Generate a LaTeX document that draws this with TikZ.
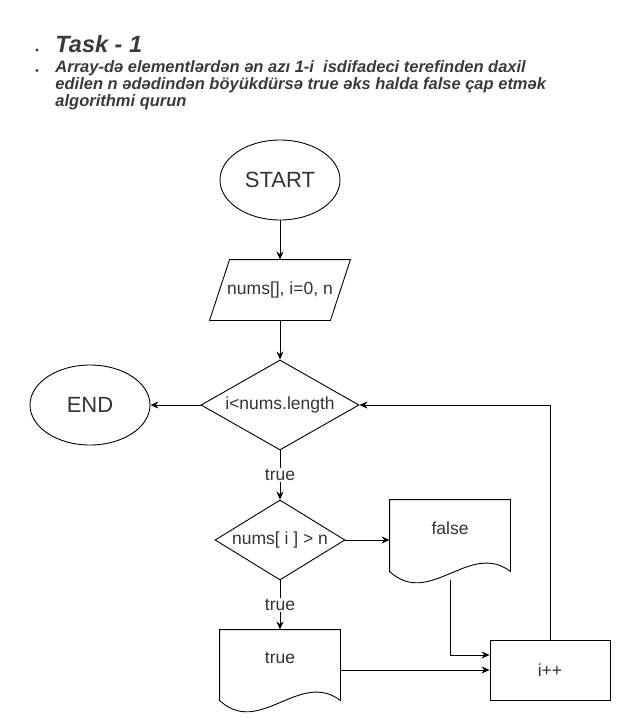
\documentclass[tikz,border=0pt]{standalone}
\usepackage{fontspec}
\setmainfont{Liberation Sans}
\usetikzlibrary{shapes.geometric,arrows.meta,calc}
\definecolor{ink}{HTML}{333333}
\definecolor{titleink}{HTML}{3A3A3A}
\begin{document}
\begin{tikzpicture}[x=1pt,y=-1pt,
  line width=0.9pt,
  flowtext/.style={text=ink,font=\fontsize{17.5}{20}\selectfont},
  term/.style={ellipse,draw,minimum width=120,minimum height=80,inner sep=0pt,text=ink,font=\fontsize{22}{24}\selectfont},
  ghost/.style={rectangle,inner sep=0pt,flowtext},
  decision/.style={diamond,draw,inner sep=0pt,flowtext},
  procbox/.style={rectangle,draw,minimum width=120,minimum height=60,inner sep=0pt,flowtext},
  flow/.style={-{Stealth[length=8pt,width=7pt]}},
  edgelabel/.style={fill=white,inner sep=1.5pt,flowtext},
  heading/.style={anchor=base west,inner sep=0pt,text=titleink},
  bodyline/.style={heading,font=\fontsize{16.5}{17}\selectfont\bfseries\itshape},
]
\useasboundingbox (0,0) rectangle (621,721);

% heading block
\fill[titleink] (37,50) circle (1.6);
\node[heading,font=\fontsize{23.5}{26}\selectfont\bfseries\itshape] (title) at (55,52) {Task - 1};
\fill[titleink] (37,70.5) circle (1.6);
\node[bodyline] (line1) at (55,72) {Array-də elementlərdən ən azı 1-i\ \ isdifadeci terefinden daxil};
\node[bodyline] (line2) at (55,89) {edilen n ədədindən böyükdürsə true əks halda false çap etmək};
\node[bodyline] (line3) at (55,106) {algorithmi qurun};

% terminals
\node[term] (start) at (280,180) {START};
\node[term] (end) at (90,405) {END};

% input (parallelogram)
\node[ghost,minimum width=140,minimum height=60] (inp) at (280,290) {nums[], i=0, n};
\draw ($(inp.north west)+(20,0)$) -- (inp.north east) -- ($(inp.south east)+(-20,0)$) -- (inp.south west) -- cycle;

% decisions
\node[decision,aspect=1.76,minimum width=158,minimum height=90] (loop) at (280,405) {i<nums.length};
\node[decision,aspect=1.62,minimum width=130,minimum height=80] (cmp) at (280,540) {nums[ i ] > n};

% output documents
\node[ghost,minimum width=120,minimum height=80] (fout) at (450,540) {};
\node[flowtext] at (450,528) {false};
\draw (fout.north west) -- (fout.north east)
  -- ($(fout.south east)+(0,-9)$)
  .. controls ($(fout.south west)+(80,-40)$) and ($(fout.south west)+(40,28)$) .. ($(fout.south west)+(0,-9)$)
  -- cycle;

\node[ghost,minimum width=120,minimum height=80] (tout) at (280,670) {};
\node[flowtext] at (280,658) {true};
\draw (tout.north west) -- (tout.north east)
  -- ($(tout.south east)+(0,-10)$)
  .. controls ($(tout.south west)+(80,-41)$) and ($(tout.south west)+(40,27)$) .. ($(tout.south west)+(0,-10)$)
  -- cycle;

% increment
\node[procbox] (inc) at (550,670) {i++};

% connectors
\draw[flow] (start) -- (inp);
\draw[flow] (inp) -- (loop.north);
\draw[flow] (loop.west) -- (end.east);
\draw[flow] (loop.south) -- node[edgelabel] {true} (cmp.north);
\draw[flow] (cmp.east) -- (fout.west);
\draw[flow] (cmp.south) -- node[edgelabel] {true} (tout.north);
\draw[flow] (tout.east) -- (inc.west);
\draw[flow] (fout.south) |- ($(inc.west)+(0,-15)$);
\draw[flow] (inc.north) |- (loop.east);
\end{tikzpicture}
\end{document}
